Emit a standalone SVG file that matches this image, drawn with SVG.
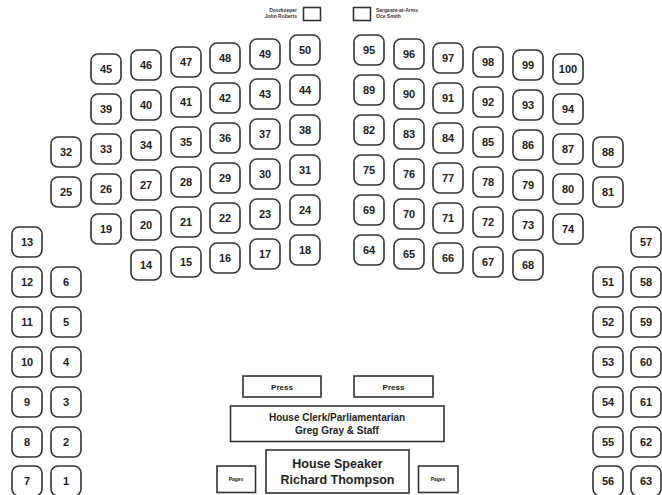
<svg xmlns="http://www.w3.org/2000/svg" width="662" height="495" viewBox="0 0 662 495">
<style>
.seatbox{fill:#fff;stroke:#333;stroke-width:1.6}
.s text{font-family:"Liberation Sans",Arial,sans-serif;font-size:11px;font-weight:bold;fill:#222;text-anchor:middle}
.b{fill:#fff;stroke:#333;stroke-width:1.6}
.t{font-family:"Liberation Sans",Arial,sans-serif;font-weight:bold;fill:#222;text-anchor:middle}
.sm{font-family:"Liberation Sans",Arial,sans-serif;font-size:5px;font-weight:bold;fill:#333}
</style>
<defs>
<rect id="seat" class="seatbox" x="0" y="0" width="30" height="30" rx="7" fill="#fff" stroke="#333" stroke-width="1.6"/>
</defs>
<rect width="662" height="495" fill="#fff"/>
<g id="connectors"/>
<g id="doorkeeper"><text class="sm" x="297" y="12" text-anchor="end">Doorkeeper</text><text class="sm" x="297" y="18" text-anchor="end">John Roberts</text><rect class="b" x="303.5" y="7.5" width="17" height="13"/></g>
<g id="sergeant"><rect class="b" x="353.5" y="7.5" width="17" height="13"/><text class="sm" x="376" y="12">Sergeant-at-Arms</text><text class="sm" x="376" y="18">Oce Smith</text></g>
<g class="s">
<g id="seat-45" transform="translate(91,54)"><use href="#seat"/><text x="15" y="19">45</text></g>
<g id="seat-46" transform="translate(131,50)"><use href="#seat"/><text x="15" y="19">46</text></g>
<g id="seat-47" transform="translate(171,47)"><use href="#seat"/><text x="15" y="19">47</text></g>
<g id="seat-48" transform="translate(210,43)"><use href="#seat"/><text x="15" y="19">48</text></g>
<g id="seat-49" transform="translate(250,39)"><use href="#seat"/><text x="15" y="19">49</text></g>
<g id="seat-50" transform="translate(290,35)"><use href="#seat"/><text x="15" y="19">50</text></g>
<g id="seat-39" transform="translate(91,94)"><use href="#seat"/><text x="15" y="19">39</text></g>
<g id="seat-40" transform="translate(131,90)"><use href="#seat"/><text x="15" y="19">40</text></g>
<g id="seat-41" transform="translate(171,87)"><use href="#seat"/><text x="15" y="19">41</text></g>
<g id="seat-42" transform="translate(210,83)"><use href="#seat"/><text x="15" y="19">42</text></g>
<g id="seat-43" transform="translate(250,79)"><use href="#seat"/><text x="15" y="19">43</text></g>
<g id="seat-44" transform="translate(290,75)"><use href="#seat"/><text x="15" y="19">44</text></g>
<g id="seat-32" transform="translate(51,137)"><use href="#seat"/><text x="15" y="19">32</text></g>
<g id="seat-33" transform="translate(91,134)"><use href="#seat"/><text x="15" y="19">33</text></g>
<g id="seat-34" transform="translate(131,130)"><use href="#seat"/><text x="15" y="19">34</text></g>
<g id="seat-35" transform="translate(171,127)"><use href="#seat"/><text x="15" y="19">35</text></g>
<g id="seat-36" transform="translate(210,123)"><use href="#seat"/><text x="15" y="19">36</text></g>
<g id="seat-37" transform="translate(250,119)"><use href="#seat"/><text x="15" y="19">37</text></g>
<g id="seat-38" transform="translate(290,115)"><use href="#seat"/><text x="15" y="19">38</text></g>
<g id="seat-25" transform="translate(51,177)"><use href="#seat"/><text x="15" y="19">25</text></g>
<g id="seat-26" transform="translate(91,174)"><use href="#seat"/><text x="15" y="19">26</text></g>
<g id="seat-27" transform="translate(131,170)"><use href="#seat"/><text x="15" y="19">27</text></g>
<g id="seat-28" transform="translate(171,167)"><use href="#seat"/><text x="15" y="19">28</text></g>
<g id="seat-29" transform="translate(210,163)"><use href="#seat"/><text x="15" y="19">29</text></g>
<g id="seat-30" transform="translate(250,159)"><use href="#seat"/><text x="15" y="19">30</text></g>
<g id="seat-31" transform="translate(290,155)"><use href="#seat"/><text x="15" y="19">31</text></g>
<g id="seat-19" transform="translate(91,214)"><use href="#seat"/><text x="15" y="19">19</text></g>
<g id="seat-20" transform="translate(131,210)"><use href="#seat"/><text x="15" y="19">20</text></g>
<g id="seat-21" transform="translate(171,207)"><use href="#seat"/><text x="15" y="19">21</text></g>
<g id="seat-22" transform="translate(210,203)"><use href="#seat"/><text x="15" y="19">22</text></g>
<g id="seat-23" transform="translate(250,199)"><use href="#seat"/><text x="15" y="19">23</text></g>
<g id="seat-24" transform="translate(290,195)"><use href="#seat"/><text x="15" y="19">24</text></g>
<g id="seat-14" transform="translate(131,250)"><use href="#seat"/><text x="15" y="19">14</text></g>
<g id="seat-15" transform="translate(171,247)"><use href="#seat"/><text x="15" y="19">15</text></g>
<g id="seat-16" transform="translate(210,243)"><use href="#seat"/><text x="15" y="19">16</text></g>
<g id="seat-17" transform="translate(250,239)"><use href="#seat"/><text x="15" y="19">17</text></g>
<g id="seat-18" transform="translate(290,235)"><use href="#seat"/><text x="15" y="19">18</text></g>
<g id="seat-95" transform="translate(354,35)"><use href="#seat"/><text x="15" y="19">95</text></g>
<g id="seat-96" transform="translate(394,39)"><use href="#seat"/><text x="15" y="19">96</text></g>
<g id="seat-97" transform="translate(433,43)"><use href="#seat"/><text x="15" y="19">97</text></g>
<g id="seat-98" transform="translate(473,47)"><use href="#seat"/><text x="15" y="19">98</text></g>
<g id="seat-99" transform="translate(513,50)"><use href="#seat"/><text x="15" y="19">99</text></g>
<g id="seat-100" transform="translate(553,54)"><use href="#seat"/><text x="15" y="19">100</text></g>
<g id="seat-89" transform="translate(354,75)"><use href="#seat"/><text x="15" y="19">89</text></g>
<g id="seat-90" transform="translate(394,79)"><use href="#seat"/><text x="15" y="19">90</text></g>
<g id="seat-91" transform="translate(433,83)"><use href="#seat"/><text x="15" y="19">91</text></g>
<g id="seat-92" transform="translate(473,87)"><use href="#seat"/><text x="15" y="19">92</text></g>
<g id="seat-93" transform="translate(513,90)"><use href="#seat"/><text x="15" y="19">93</text></g>
<g id="seat-94" transform="translate(553,94)"><use href="#seat"/><text x="15" y="19">94</text></g>
<g id="seat-82" transform="translate(354,115)"><use href="#seat"/><text x="15" y="19">82</text></g>
<g id="seat-83" transform="translate(394,119)"><use href="#seat"/><text x="15" y="19">83</text></g>
<g id="seat-84" transform="translate(433,123)"><use href="#seat"/><text x="15" y="19">84</text></g>
<g id="seat-85" transform="translate(473,127)"><use href="#seat"/><text x="15" y="19">85</text></g>
<g id="seat-86" transform="translate(513,130)"><use href="#seat"/><text x="15" y="19">86</text></g>
<g id="seat-87" transform="translate(553,134)"><use href="#seat"/><text x="15" y="19">87</text></g>
<g id="seat-88" transform="translate(593,137)"><use href="#seat"/><text x="15" y="19">88</text></g>
<g id="seat-75" transform="translate(354,155)"><use href="#seat"/><text x="15" y="19">75</text></g>
<g id="seat-76" transform="translate(394,159)"><use href="#seat"/><text x="15" y="19">76</text></g>
<g id="seat-77" transform="translate(433,163)"><use href="#seat"/><text x="15" y="19">77</text></g>
<g id="seat-78" transform="translate(473,167)"><use href="#seat"/><text x="15" y="19">78</text></g>
<g id="seat-79" transform="translate(513,170)"><use href="#seat"/><text x="15" y="19">79</text></g>
<g id="seat-80" transform="translate(553,174)"><use href="#seat"/><text x="15" y="19">80</text></g>
<g id="seat-81" transform="translate(593,177)"><use href="#seat"/><text x="15" y="19">81</text></g>
<g id="seat-69" transform="translate(354,195)"><use href="#seat"/><text x="15" y="19">69</text></g>
<g id="seat-70" transform="translate(394,199)"><use href="#seat"/><text x="15" y="19">70</text></g>
<g id="seat-71" transform="translate(433,203)"><use href="#seat"/><text x="15" y="19">71</text></g>
<g id="seat-72" transform="translate(473,207)"><use href="#seat"/><text x="15" y="19">72</text></g>
<g id="seat-73" transform="translate(513,210)"><use href="#seat"/><text x="15" y="19">73</text></g>
<g id="seat-74" transform="translate(553,214)"><use href="#seat"/><text x="15" y="19">74</text></g>
<g id="seat-64" transform="translate(354,235)"><use href="#seat"/><text x="15" y="19">64</text></g>
<g id="seat-65" transform="translate(394,239)"><use href="#seat"/><text x="15" y="19">65</text></g>
<g id="seat-66" transform="translate(433,243)"><use href="#seat"/><text x="15" y="19">66</text></g>
<g id="seat-67" transform="translate(473,247)"><use href="#seat"/><text x="15" y="19">67</text></g>
<g id="seat-68" transform="translate(513,250)"><use href="#seat"/><text x="15" y="19">68</text></g>
<g id="seat-13" transform="translate(12,227)"><use href="#seat"/><text x="15" y="19">13</text></g>
<g id="seat-12" transform="translate(12,267)"><use href="#seat"/><text x="15" y="19">12</text></g>
<g id="seat-11" transform="translate(12,307)"><use href="#seat"/><text x="15" y="19">11</text></g>
<g id="seat-10" transform="translate(12,347)"><use href="#seat"/><text x="15" y="19">10</text></g>
<g id="seat-9" transform="translate(12,387)"><use href="#seat"/><text x="15" y="19">9</text></g>
<g id="seat-8" transform="translate(12,427)"><use href="#seat"/><text x="15" y="19">8</text></g>
<g id="seat-7" transform="translate(12,466)"><use href="#seat"/><text x="15" y="19">7</text></g>
<g id="seat-6" transform="translate(51,267)"><use href="#seat"/><text x="15" y="19">6</text></g>
<g id="seat-5" transform="translate(51,307)"><use href="#seat"/><text x="15" y="19">5</text></g>
<g id="seat-4" transform="translate(51,347)"><use href="#seat"/><text x="15" y="19">4</text></g>
<g id="seat-3" transform="translate(51,387)"><use href="#seat"/><text x="15" y="19">3</text></g>
<g id="seat-2" transform="translate(51,427)"><use href="#seat"/><text x="15" y="19">2</text></g>
<g id="seat-1" transform="translate(51,466)"><use href="#seat"/><text x="15" y="19">1</text></g>
<g id="seat-57" transform="translate(631,227)"><use href="#seat"/><text x="15" y="19">57</text></g>
<g id="seat-58" transform="translate(631,267)"><use href="#seat"/><text x="15" y="19">58</text></g>
<g id="seat-59" transform="translate(631,307)"><use href="#seat"/><text x="15" y="19">59</text></g>
<g id="seat-60" transform="translate(631,347)"><use href="#seat"/><text x="15" y="19">60</text></g>
<g id="seat-61" transform="translate(631,387)"><use href="#seat"/><text x="15" y="19">61</text></g>
<g id="seat-62" transform="translate(631,427)"><use href="#seat"/><text x="15" y="19">62</text></g>
<g id="seat-63" transform="translate(631,466)"><use href="#seat"/><text x="15" y="19">63</text></g>
<g id="seat-51" transform="translate(593,267)"><use href="#seat"/><text x="15" y="19">51</text></g>
<g id="seat-52" transform="translate(593,307)"><use href="#seat"/><text x="15" y="19">52</text></g>
<g id="seat-53" transform="translate(593,347)"><use href="#seat"/><text x="15" y="19">53</text></g>
<g id="seat-54" transform="translate(593,387)"><use href="#seat"/><text x="15" y="19">54</text></g>
<g id="seat-55" transform="translate(593,427)"><use href="#seat"/><text x="15" y="19">55</text></g>
<g id="seat-56" transform="translate(593,466)"><use href="#seat"/><text x="15" y="19">56</text></g>
</g>
<g id="press-left"><rect class="b" x="243" y="376" width="78" height="21"/><text class="t" x="282" y="390" font-size="8">Press</text></g>
<g id="press-right"><rect class="b" x="354" y="376" width="79" height="21"/><text class="t" x="393.5" y="390" font-size="8">Press</text></g>
<g id="clerk"><rect class="b" x="230.5" y="406" width="213.5" height="35.5"/><text class="t" x="337" y="421" font-size="10">House Clerk/Parliamentarian</text><text class="t" x="337" y="434" font-size="10">Greg Gray &amp; Staff</text></g>
<g id="speaker"><rect class="b" x="266" y="450" width="143" height="43"/><text class="t" x="337.5" y="468" font-size="12.5">House Speaker</text><text class="t" x="337.5" y="484" font-size="12.5">Richard Thompson</text></g>
<g id="pages-left"><rect class="b" x="217" y="466" width="38.5" height="26.5"/><text class="t" x="236" y="481" font-size="5">Pages</text></g>
<g id="pages-right"><rect class="b" x="418.5" y="466" width="39.5" height="26.5"/><text class="t" x="438" y="481" font-size="5">Pages</text></g>
</svg>
